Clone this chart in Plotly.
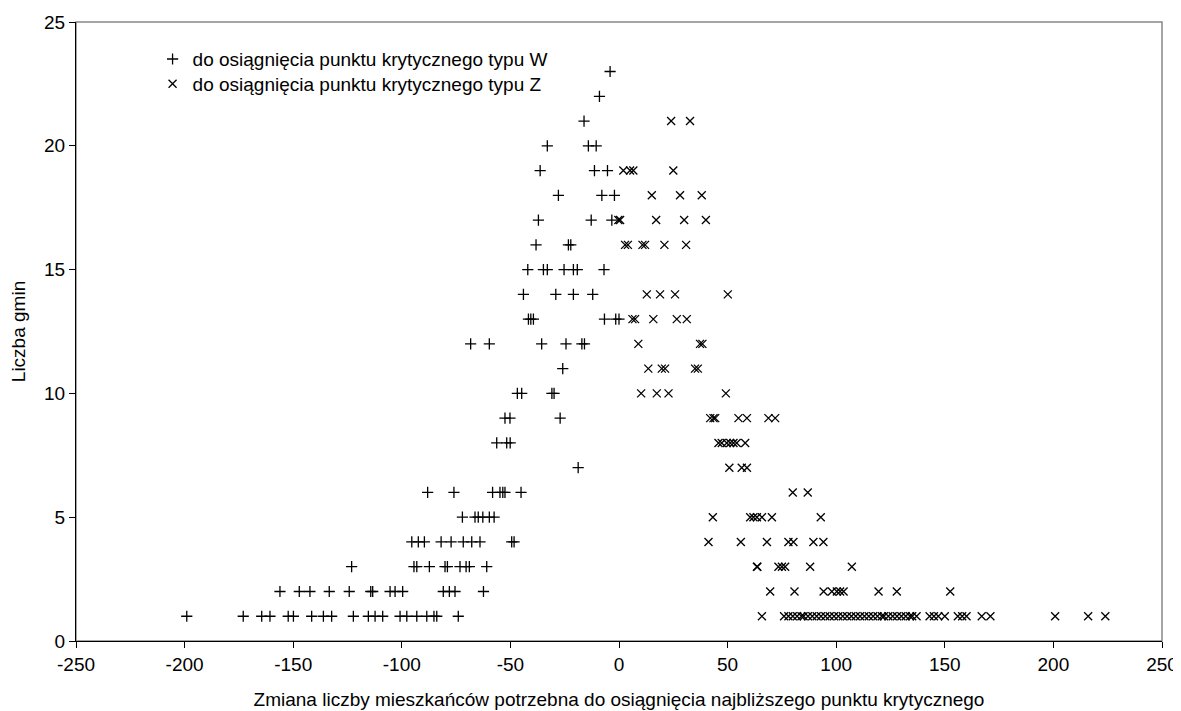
import plotly.graph_objects as go

# --- data: change in population needed, grouped by "Liczba gmin" value ---
w_rows = {
    1: [-199, -173, -164.5, -160.7, -152.3, -149.9, -141.5, -136.1, -132.3, -122.3,
        -115.4, -112.3, -108.8, -100.8, -97.7, -93.1, -88.5, -85.2, -83.9, -74.0],
    2: [-156.1, -147.2, -142.3, -133.4, -124.2, -114.3, -113.4, -105.4, -103.1, -99.6,
        -80.9, -78.1, -75.5, -62.4],
    3: [-123.1, -94.4, -93.1, -87.3, -80.1, -79.0, -73.2, -70.4, -68.9, -60.9],
    4: [-95.4, -92.4, -89.6, -81.9, -77.3, -71.7, -67.8, -64.0, -49.4, -48.3],
    5: [-72.1, -66.3, -64.8, -62.7, -59.7, -57.5],
    6: [-88.1, -76.0, -58.2, -54.8, -53.5, -52.5, -45.1],
    7: [-18.8],
    8: [-56.3, -51.7, -50.1],
    9: [-52.5, -50.2, -27.1],
    10: [-46.8, -44.8, -30.9, -29.9],
    11: [-25.9],
    12: [-68.3, -59.7, -35.6, -24.4, -17.1, -15.9],
    13: [-41.7, -40.6, -39.4, -6.7, -1.5, 0],
    14: [-44.0, -29.1, -21.0, -12.1],
    15: [-42.0, -34.8, -33.0, -25.3, -21.0, -19.2, -6.9],
    16: [-38.2, -23.3, -22.2],
    17: [-37.1, -12.8, -3.3],
    18: [-27.9, -7.9, -2.1],
    19: [-36.3, -11.3, -5.3],
    20: [-33.0, -14.1, -10.5],
    21: [-16.1],
    22: [-9.0],
    23: [-4.1],
}

z_rows = {
    1: [65.8, 76, 78, 80, 82, 84, 85, 87, 89, 91, 93, 95, 97, 99, 101, 103, 105, 107,
        109, 111, 113, 115, 117, 119, 121, 122, 124, 126, 128, 130, 132, 134, 135,
        137, 143, 145, 147, 150, 156, 158, 160, 167, 171, 200.8, 216.0, 223.9],
    2: [69.6, 80.8, 94.2, 98.0, 100.3, 101.8, 103.4, 119.5, 127.9, 152.5],
    3: [63.5, 63.7, 73.4, 75.0, 76.5, 88.0, 107.2],
    4: [41.2, 56.1, 68.1, 78.0, 80.3, 89.5, 94.1],
    5: [43.2, 60.4, 61.9, 63.5, 65.8, 70.4, 92.9],
    6: [80.0, 86.9],
    7: [50.8, 56.5, 58.9],
    8: [45.8, 47.3, 49.6, 51.2, 52.7, 54.2, 58.1],
    9: [42.0, 43.5, 44.3, 55.0, 58.9, 68.8, 71.9],
    10: [10.2, 17.4, 22.8, 49.2],
    11: [13.5, 19.7, 21.2, 35.0, 36.3],
    12: [8.9, 37.3, 38.4],
    13: [6.2, 7.4, 15.8, 26.6, 31.2],
    14: [12.8, 18.9, 25.8, 50.1],
    16: [2.8, 4.1, 10.8, 12.0, 20.9, 30.9],
    17: [-0.3, 0.5, 17.1, 30.0, 40.0],
    18: [15.1, 28.1, 38.1],
    19: [2.0, 5.1, 6.6, 25.0],
    21: [24.0, 32.7],
}

x_ticks = [-250, -200, -150, -100, -50, 0, 50, 100, 150, 200, 250]
y_ticks = [0, 5, 10, 15, 20, 25]

name_w = "do osiągnięcia punktu krytycznego typu W"
name_z = "do osiągnięcia punktu krytycznego typu Z"
x_title = "Zmiana liczby mieszkańców potrzebna do osiągnięcia najbliższego punktu krytycznego"
y_title = "Liczba gmin"


def flatten(rows):
    xs, ys = [], []
    for yv, vals in rows.items():
        for xv in vals:
            xs.append(xv)
            ys.append(yv)
    return xs, ys


wx, wy = flatten(w_rows)
zx, zy = flatten(z_rows)

FONT = "Liberation Sans, Arial, sans-serif"
FS = 19

fig = go.Figure()
fig.add_trace(go.Scatter(
    x=wx, y=wy, mode="markers", name=name_w, legend="legend", showlegend=True,
    marker=dict(symbol="cross-thin", size=8, color="black",
                line=dict(color="black", width=1.3)),
))
fig.add_trace(go.Scatter(
    x=zx, y=zy, mode="markers", name=name_z, legend="legend2", showlegend=True,
    marker=dict(symbol="x-thin", size=8, color="black",
                line=dict(color="black", width=1.3)),
))

# page body has an 8px margin: figure is placed at (8, 8)
W, H = 1177, 703
fig.update_layout(
    width=W, height=H,
    paper_bgcolor="white", plot_bgcolor="white",
    showlegend=True,
    margin=dict(l=68, r=23, t=14, b=70, autoexpand=False),
    font=dict(family=FONT, size=FS, color="black"),
    legend=dict(x=0.0705, y=0.940, xanchor="left", yanchor="middle",
                bgcolor="rgba(0,0,0,0)", font=dict(size=FS, family=FONT),
                itemwidth=30, tracegroupgap=0),
    legend2=dict(x=0.0705, y=0.900, xanchor="left", yanchor="middle",
                 bgcolor="rgba(0,0,0,0)", font=dict(size=FS, family=FONT),
                 itemwidth=30, tracegroupgap=0),
    shapes=[dict(type="rect", xref="paper", yref="paper", x0=0, x1=1, y0=0, y1=1,
                 line=dict(color="#888888", width=1.5), layer="below")],
)

fig.update_xaxes(
    range=[-250, 250], tickvals=x_ticks, ticktext=[str(v) for v in x_ticks],
    automargin=False,
    showgrid=False, zeroline=False, showline=True, linecolor="black", linewidth=1.3,
    ticks="outside", ticklen=6, tickcolor="black", tickfont=dict(size=FS),
    title=dict(text=x_title, font=dict(size=FS), standoff=18),
)
fig.update_yaxes(
    range=[0, 25], tickvals=y_ticks, ticktext=[str(v) for v in y_ticks],
    automargin=False,
    showgrid=False, zeroline=False, showline=True, linecolor="black", linewidth=1.3,
    ticks="outside", ticklen=6, tickcolor="black", tickfont=dict(size=FS),
    title=dict(text=y_title, font=dict(size=FS), standoff=22),
)

fig.write_html("out.html")
